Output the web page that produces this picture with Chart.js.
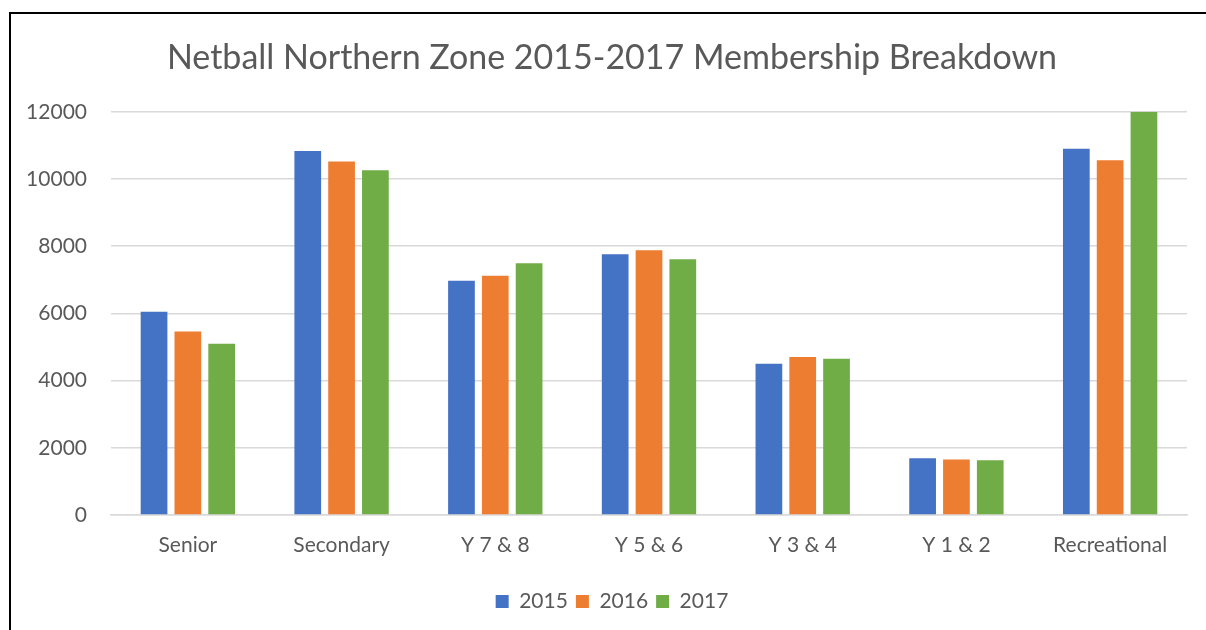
<!DOCTYPE html>
<html lang="en">
<head>
    <meta charset="UTF-8">
    <title>Netball Northern Zone Membership</title>
    <script src="https://cdn.jsdelivr.net/npm/chart.js"></script>
    <style>
        body {
            margin: 0;
            padding: 0;
            background-color: #ffffff;
            overflow: hidden;
        }
        /* el gráfico original es un poco más ancho que la ventana */
        .chart-box {
            position: relative;
            width: 1224px;
            height: 630px;
        }
        /* marco negro arriba e izquierda, como en la captura */
        .marco {
            position: absolute;
            left: 9px;
            top: 12px;
            width: 1214px;
            height: 640px;
            border-left: 2px solid #000;
            border-top: 2px solid #000;
            pointer-events: none;
        }
    </style>
</head>
<body>
    <div class="chart-box">
        <canvas id="memberChart" width="1224" height="630"></canvas>
        <div class="marco"></div>
    </div>

    <script>
        // Datos del gráfico
        const categorias = ["Senior", "Secondary", "Y 7 & 8", "Y 5 & 6", "Y 3 & 4", "Y 1 & 2", "Recreational"];
        const anios = ["2015", "2016", "2017"];
        const datos2015 = [6050, 10830, 6970, 7760, 4500, 1690, 10900];
        const datos2016 = [5460, 10520, 7120, 7880, 4700, 1650, 10560];
        const datos2017 = [5100, 10260, 7490, 7610, 4650, 1630, 12000];
        const ticksY = [0, 2000, 4000, 6000, 8000, 10000, 12000];

        const colores = ["#4472C4", "#ED7D31", "#70AD47"];
        const textoGris = "#595959";
        const fuente = "Lato, 'Open Sans', sans-serif";

        const ctx = document.getElementById('memberChart').getContext('2d');

        new Chart(ctx, {
            type: 'bar',
            data: {
                labels: categorias,
                datasets: [
                    { label: anios[0], data: datos2015, backgroundColor: colores[0] },
                    { label: anios[1], data: datos2016, backgroundColor: colores[1] },
                    { label: anios[2], data: datos2017, backgroundColor: colores[2] }
                ]
            },
            options: {
                responsive: false,
                animation: false,
                categoryPercentage: 0.66,
                barPercentage: 0.79,
                layout: {
                    padding: { left: 0, right: 0, top: 0, bottom: 8 }
                },
                plugins: {
                    title: {
                        display: true,
                        text: 'Netball Northern Zone 2015-2017 Membership Breakdown',
                        color: textoGris,
                        font: { family: fuente, size: 34, weight: 'normal' },
                        padding: { top: 38, bottom: 33 }
                    },
                    legend: {
                        position: 'bottom',
                        labels: {
                            color: textoGris,
                            font: { family: fuente, size: 21 },
                            boxWidth: 13,
                            boxHeight: 13,
                            padding: 8
                        }
                    },
                    tooltip: { enabled: false }
                },
                scales: {
                    x: {
                        grid: { display: false, drawTicks: false },
                        border: { display: true, color: '#d9d9d9', width: 1.5 },
                        ticks: {
                            color: textoGris,
                            font: { family: fuente, size: 21 },
                            padding: 18
                        },
                        afterFit: function (scale) { scale.height = 68; }
                    },
                    y: {
                        min: 0,
                        max: 12000,
                        afterBuildTicks: function (scale) {
                            scale.ticks = ticksY.map(v => ({ value: v }));
                        },
                        grid: { color: '#d9d9d9', lineWidth: 1.5, drawTicks: false },
                        border: { display: false },
                        ticks: {
                            color: textoGris,
                            font: { family: fuente, size: 21 },
                            padding: 24,
                            callback: function (valor) { return String(valor); }
                        },
                        afterFit: function (scale) { scale.width = 111; }
                    },
                    // eje vacío a la derecha solo para dejar el margen derecho
                    margenDer: {
                        type: 'linear',
                        position: 'right',
                        grid: { display: false, drawTicks: false },
                        border: { display: false },
                        ticks: { display: false },
                        afterFit: function (scale) { scale.width = 37; }
                    }
                }
            }
        });
    </script>
</body>
</html>
